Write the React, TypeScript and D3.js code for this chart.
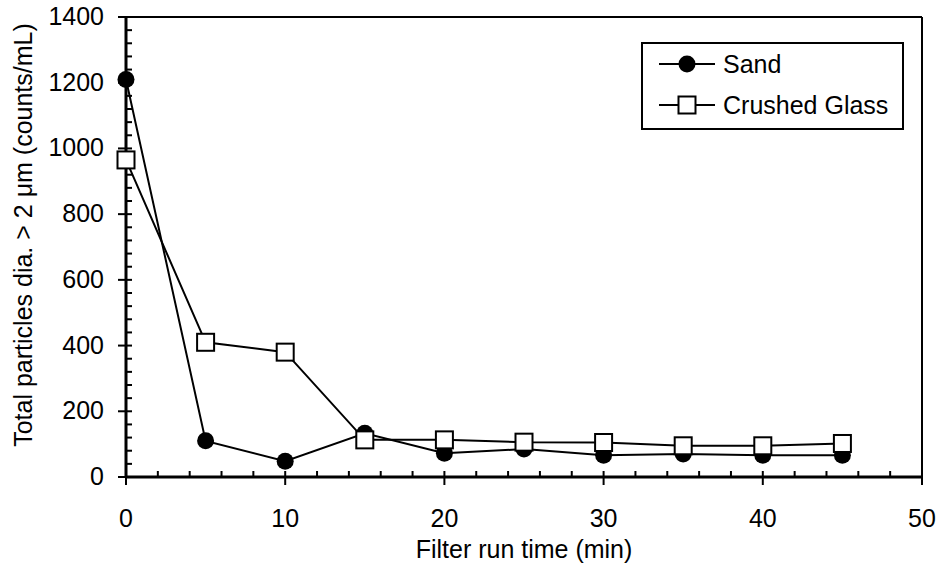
import React from "react";
import * as d3 from "d3";

const times = [0, 5, 10, 15, 20, 25, 30, 35, 40, 45];
const sandValues = [1210, 110, 48, 133, 72, 85, 66, 70, 66, 66];
const glassValues = [965, 410, 380, 113, 113, 106, 105, 95, 95, 102];
const xTicks = [0, 10, 20, 30, 40, 50];
const yTicks = [0, 200, 400, 600, 800, 1000, 1200, 1400];
const seriesNames = ["Sand", "Crushed Glass"];

const W = 937, H = 565;
const left = 126, right = 922, top = 17, bottom = 477;
const FONT = "'Liberation Sans', Arial, sans-serif";

export default function App() {
  const x = d3.scaleLinear().domain([0, 50]).range([left, right]);
  const y = d3.scaleLinear().domain([0, 1400]).range([bottom, top]);
  const line = d3.line<number>().x((_, i) => x(times[i])).y((d) => y(d));
  const xMinor = d3.range(0, 50.001, 2).filter((v) => v % 10 !== 0);
  const yMinor = d3.range(0, 1400.001, 40).filter((v) => v % 200 !== 0);
  const sq = 17;
  return (
    <svg width={W} height={H} style={{ position: "absolute", left: 0, top: 0, background: "#fff" }} fontFamily={FONT}>
      <rect x={0} y={0} width={W} height={H} fill="#fff" />
      {/* frame */}
      <line x1={left} x2={right} y1={top} y2={top} stroke="#000" strokeWidth={2} />
      <line x1={right} x2={right} y1={top} y2={bottom} stroke="#000" strokeWidth={2} />
      <line x1={left} x2={left} y1={top - 1} y2={bottom + 1} stroke="#000" strokeWidth={3} />
      <line x1={left - 1} x2={right + 1} y1={bottom} y2={bottom} stroke="#000" strokeWidth={3} />
      {/* x ticks */}
      {xTicks.map((t) => (
        <g key={"xt" + t}>
          <line x1={x(t)} x2={x(t)} y1={bottom - 6} y2={bottom + 8} stroke="#000" strokeWidth={2} />
          <text x={x(t)} y={527} textAnchor="middle" fontSize={25}>{t}</text>
        </g>
      ))}
      {xMinor.map((t) => (
        <line key={"xm" + t} x1={x(t)} x2={x(t)} y1={bottom} y2={bottom - 6} stroke="#000" strokeWidth={2} />
      ))}
      {yTicks.map((t) => (
        <g key={"yt" + t}>
          <line x1={left - 8} x2={left + 6} y1={y(t)} y2={y(t)} stroke="#000" strokeWidth={2} />
          <text x={left - 22} y={y(t) + 8} textAnchor="end" fontSize={25}>{t}</text>
        </g>
      ))}
      {yMinor.map((t) => (
        <line key={"ym" + t} x1={left} x2={left + 6} y1={y(t)} y2={y(t)} stroke="#000" strokeWidth={2} />
      ))}
      {/* axis titles */}
      <text x={(left + right) / 2} y={558} textAnchor="middle" fontSize={25}>Filter run time (min)</text>
      <text transform={`translate(32, 235) rotate(-90)`} textAnchor="middle" fontSize={25}>
        Total particles dia. &gt; 2 μm (counts/mL)
      </text>
      {/* series */}
      <path d={line(sandValues) || ""} fill="none" stroke="#000" strokeWidth={2} />
      {sandValues.map((v, i) => (
        <circle key={"s" + i} cx={x(times[i])} cy={y(v)} r={8.5} fill="#000" />
      ))}
      <path d={line(glassValues) || ""} fill="none" stroke="#000" strokeWidth={2} />
      {glassValues.map((v, i) => (
        <rect key={"g" + i} x={x(times[i]) - sq / 2} y={y(v) - sq / 2} width={sq} height={sq} fill="#fff" stroke="#000" strokeWidth={2} />
      ))}
      {/* legend */}
      <rect x={642} y={43} width={261} height={86} fill="#fff" stroke="#000" strokeWidth={2} />
      <line x1={659} x2={715} y1={64} y2={64} stroke="#000" strokeWidth={2} />
      <circle cx={687} cy={64} r={8.5} fill="#000" />
      <text x={723} y={73} fontSize={25}>{seriesNames[0]}</text>
      <line x1={659} x2={715} y1={105} y2={105} stroke="#000" strokeWidth={2} />
      <rect x={687 - sq / 2} y={105 - sq / 2} width={sq} height={sq} fill="#fff" stroke="#000" strokeWidth={2} />
      <text x={723} y={114} fontSize={25}>{seriesNames[1]}</text>
    </svg>
  );
}
